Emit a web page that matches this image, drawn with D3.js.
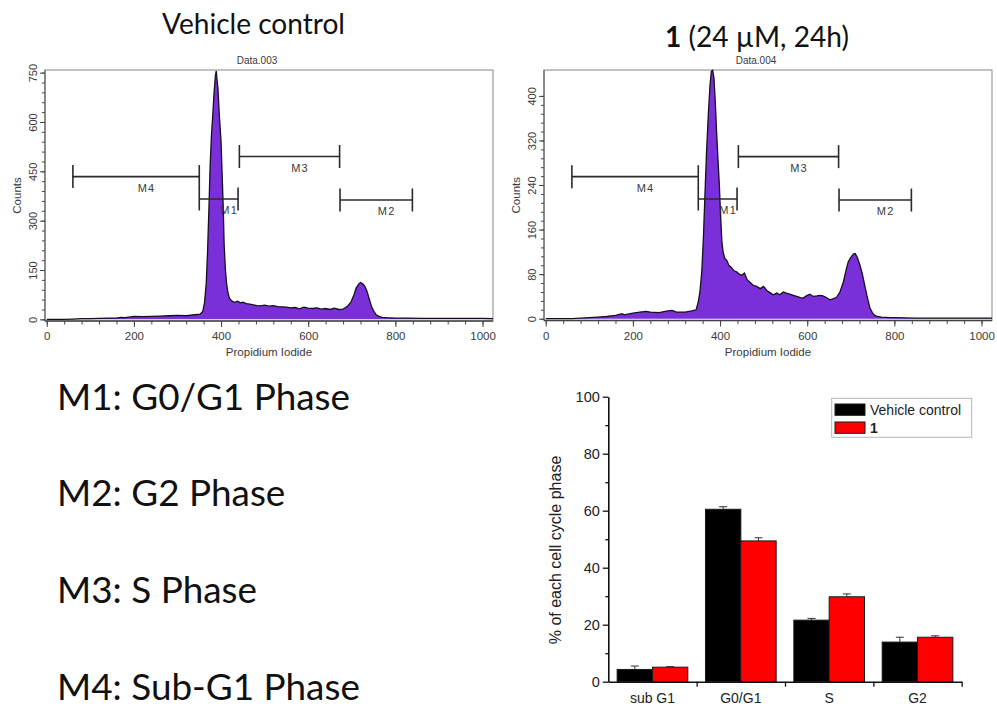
<!DOCTYPE html>
<html>
<head>
<meta charset="utf-8">
<script src="https://cdn.jsdelivr.net/npm/d3@7"></script>
<style>
  body { margin: 0; background: #fff; }
  svg { display: block; }
</style>
</head>
<body>
<svg id="fig" width="997" height="707"></svg>
<script>
// ---- DNA content histograms: [PI channel, counts] ----
const vehicleHist = [
  [0,0],[40,0],[60,1],[80,2],[100,2],[120,3],[140,4],[160,4],[170,6],[180,5],[200,9],[220,8],
  [240,9],[260,10],[280,11],[300,12],[320,11],[340,14],[352,16],[358,24],[362,50],[366,110],
  [369,206],[372,330],[375,470],[378,560],[381,621],[384,690],[387,740],[389,755],[391,725],
  [393,700],[396,621],[400,540],[403,420],[405,340],[407,230],[410,150],[413,105],[416,80],
  [419,65],[423,58],[427,54],[432,52],[438,55],[444,50],[450,52],[458,48],[466,46],[474,44],
  [482,42],[490,41],[500,43],[510,40],[520,42],[530,39],[540,38],[550,37],[560,35],[570,36],
  [580,32],[590,37],[600,34],[610,33],[620,35],[630,31],[640,33],[650,30],[660,34],[670,30],
  [680,31],[690,40],[698,52],[705,75],[710,95],[716,108],[720,112],[725,108],[730,100],
  [735,85],[740,62],[745,40],[750,26],[756,14],[762,9],[770,6],[780,5],[800,4],[830,4],
  [860,3],[900,3],[950,3],[1000,3],[1024,2]
];
const treatedHist = [
  [0,0],[60,0],[80,1],[100,2],[120,3],[140,4],[160,6],[175,9],[180,7],[200,10],[216,12],
  [230,13],[240,12],[260,11],[280,14],[290,15],[300,12],[320,12],[335,14],[345,16],[350,30],
  [354,50],[358,84],[362,150],[365,216],[369,300],[373,366],[377,420],[380,444],[383,446],
  [386,432],[389,390],[392,336],[395,290],[398,246],[401,190],[404,140],[407,120],[411,108],
  [416,104],[420,96],[426,92],[432,86],[438,84],[444,80],[450,78],[456,82],[462,70],[468,66],
  [476,60],[484,58],[492,54],[500,58],[508,50],[516,46],[522,43],[530,46],[537,43],[545,48],
  [552,46],[560,44],[568,42],[576,40],[584,38],[591,37],[598,41],[606,44],[614,40],[622,41],
  [629,42],[636,41],[644,38],[652,34],[660,36],[667,38],[675,48],[683,66],[690,90],[694,102],
  [700,110],[706,116],[710,117],[715,110],[721,96],[726,82],[732,60],[738,38],[744,19],
  [750,10],[755,6],[762,4],[770,3],[790,2],[800,2],[850,1],[900,1],[950,1],[1000,1],[1024,1]
];

// ---- gate markers ----
const markerNames = ["M4", "M1", "M3", "M2"];
const markerStart = [60, 350, 442, 673];
const markerEnd = [350, 439, 672, 839];
const vehicleMarkerLevel = [434, 366, 495, 363];
const treatedMarkerLevel = [255, 215, 291, 213];

// ---- histogram axes ----
const channelTicks = [0, 200, 400, 600, 800, 1000];
const vehicleCountTicks = [0, 150, 300, 450, 600, 750];
const treatedCountTicks = [0, 80, 160, 240, 320, 400];

// ---- gate key ----
const gateKey = ["M1: G0/G1 Phase", "M2: G2 Phase", "M3: S Phase", "M4: Sub-G1 Phase"];

// ---- cell-cycle distribution (%) ----
const phases = ["sub G1", "G0/G1", "S", "G2"];
const seriesNames = ["Vehicle control", "1"];
const seriesColors = ["#000000", "#ff0000"];
const vehicleMean = [4.3, 60.5, 21.6, 13.9];
const vehicleErr = [1.2, 0.9, 0.6, 1.7];
const treatedMean = [5.1, 49.4, 29.8, 15.6];
const treatedErr = [0.2, 1.1, 1.0, 0.5];
const percentTicks = [0, 20, 40, 60, 80, 100];

const svg = d3.select("#fig");
const axisFont = "'Liberation Sans', Arial, Helvetica, sans-serif";
const textFont = "Lato, 'Open Sans', sans-serif";

// font size that makes a string span a given width
function fitSize(str, family, weight, width) {
  const t = svg.append("text").attr("font-family", family).attr("font-weight", weight)
    .attr("font-size", 100).text(str);
  const w = t.node().getComputedTextLength();
  t.remove();
  return 100 * width / w;
}

// ---------- histogram panel ----------
function histogramPanel(o) {
  const x = d3.scaleLinear().domain([-4, 1024]).range([o.left, o.right]);
  const y = d3.scaleLinear().domain([o.yMin, o.yMax]).range([o.bottom, o.top]);
  const g = svg.append("g");

  g.append("rect")
    .attr("x", o.left).attr("y", o.top)
    .attr("width", o.right - o.left).attr("height", o.bottom - o.top)
    .attr("fill", "none").attr("stroke", "#9a9a9a").attr("stroke-width", 1.2);

  const area = d3.area().x(d => x(d[0])).y0(y(0)).y1(d => y(d[1]));
  const line = d3.line().x(d => x(d[0])).y(d => y(d[1]));
  g.append("path").datum(o.data).attr("d", area).attr("fill", "#7a2fd8");
  g.append("path").datum(o.data).attr("d", line)
    .attr("fill", "none").attr("stroke", "#15101e").attr("stroke-width", 1.3);

  // y axis (major + minor)
  const step = o.ticks[1] - o.ticks[0];
  const minorY = d3.range(0, o.ticks[o.ticks.length - 1] + 1, step / 5);
  const ya = g.append("g").attr("transform", `translate(${o.left},0)`)
    .call(d3.axisLeft(y).tickValues(minorY).tickSize(3).tickFormat(""));
  ya.select(".domain").remove();
  ya.selectAll("line").attr("stroke", "#444");
  const yb = g.append("g").attr("transform", `translate(${o.left},0)`)
    .call(d3.axisLeft(y).tickValues(o.ticks).tickSize(5).tickSizeOuter(0).tickFormat(d3.format("d")));
  yb.select(".domain").attr("stroke", "#555").attr("d", `M0,${o.bottom}V${o.top}`);
  yb.selectAll("line").attr("stroke", "#444");
  yb.selectAll("text")
    .attr("x", 0).attr("dy", 0)
    .attr("transform", "translate(-8,0) rotate(-90)")
    .attr("text-anchor", "middle")
    .attr("font-family", axisFont).attr("font-size", 11).attr("fill", "#3a3a3a");

  // x axis (major + minor)
  const minorX = d3.range(0, 1024, 40);
  const xa = g.append("g").attr("transform", `translate(0,${o.bottom})`)
    .call(d3.axisBottom(x).tickValues(minorX).tickSize(3.5).tickFormat(""));
  xa.select(".domain").remove();
  xa.selectAll("line").attr("stroke", "#444");
  const xb = g.append("g").attr("transform", `translate(0,${o.bottom})`)
    .call(d3.axisBottom(x).tickValues(channelTicks).tickSize(6).tickPadding(5)
      .tickSizeOuter(0).tickFormat(d3.format("d")));
  xb.select(".domain").attr("stroke", "#444").attr("stroke-width", 1.3)
    .attr("d", `M${o.left},0H${o.right}`);
  xb.selectAll("line").attr("stroke", "#444");
  xb.selectAll("text").attr("font-family", axisFont).attr("font-size", 11.5).attr("fill", "#3a3a3a");

  // axis titles and sample name
  g.append("text").attr("x", (o.left + o.right) / 2).attr("y", o.bottom + 35)
    .attr("text-anchor", "middle").attr("font-family", axisFont).attr("font-size", 11.5)
    .attr("fill", "#3a3a3a").text("Propidium Iodide");
  g.append("text").attr("transform", `translate(${o.left - 24},${(o.top + o.bottom) / 2}) rotate(-90)`)
    .attr("text-anchor", "middle").attr("font-family", axisFont).attr("font-size", 11.5)
    .attr("fill", "#3a3a3a").text("Counts");
  g.append("text").attr("x", o.sampleX).attr("y", o.top - 6)
    .attr("text-anchor", "middle").attr("font-family", axisFont).attr("font-size", 10)
    .attr("fill", "#3a3a3a").text(o.sample);

  // gate markers
  markerNames.forEach((name, i) => {
    const x0 = x(markerStart[i]), x1 = x(markerEnd[i]), yy = y(o.levels[i]);
    const m = g.append("g").attr("stroke", "#2a2a2a").attr("stroke-width", 1.6);
    m.append("line").attr("x1", x0).attr("x2", x1).attr("y1", yy).attr("y2", yy);
    m.append("line").attr("x1", x0).attr("x2", x0).attr("y1", yy - 11.5).attr("y2", yy + 11.5);
    m.append("line").attr("x1", x1).attr("x2", x1).attr("y1", yy - 11.5).attr("y2", yy + 11.5);
    g.append("text").attr("x", (x0 + x1) / 2 + 10.5).attr("y", yy + 15)
      .attr("text-anchor", "middle").attr("font-family", axisFont).attr("font-size", 11)
      .attr("letter-spacing", 1.2).attr("fill", "#3a3a3a").text(name);
  });
}

histogramPanel({
  left: 45, right: 493, top: 70, bottom: 321,
  yMin: -5, yMax: 758, ticks: vehicleCountTicks,
  data: vehicleHist, levels: vehicleMarkerLevel,
  sample: "Data.003", sampleX: 257
});
histogramPanel({
  left: 544, right: 992, top: 70, bottom: 320.5,
  yMin: -3.2, yMax: 446.5, ticks: treatedCountTicks,
  data: treatedHist, levels: treatedMarkerLevel,
  sample: "Data.004", sampleX: 756
});

// ---------- panel titles ----------
const titleSize = fitSize("Vehicle control", textFont, 400, 183);
svg.append("text").attr("x", 253.5).attr("y", 34).attr("text-anchor", "middle")
  .attr("font-family", textFont).attr("font-size", titleSize).attr("fill", "#111")
  .text("Vehicle control");
const t2 = svg.append("text").attr("x", 757).attr("y", 47).attr("text-anchor", "middle")
  .attr("font-family", textFont).attr("font-size", titleSize).attr("fill", "#111");
t2.append("tspan").attr("font-weight", 700).text("1");
t2.append("tspan").text(" (24 \u00b5M, 24h)");

// ---------- gate key ----------
const keySize = fitSize(gateKey[0], textFont, 400, 293);
const keyBase = [410, 506, 603, 700];
gateKey.forEach((s, i) => {
  svg.append("text").attr("x", 57).attr("y", keyBase[i])
    .attr("font-family", textFont).attr("font-size", keySize).attr("fill", "#111").text(s);
});

// ---------- bar chart ----------
const bx0 = 608.3, bx1 = 961.7, by0 = 681.7, by1 = 396.7;
const xBand = d3.scaleBand().domain(phases).range([bx0, bx1]).paddingInner(0.2).paddingOuter(0.1);
const xSeries = d3.scaleBand().domain(seriesNames).range([0, xBand.bandwidth()]);
const yPct = d3.scaleLinear().domain([0, 100]).range([by0, by1]);
const means = [vehicleMean, treatedMean];
const errs = [vehicleErr, treatedErr];

const bars = svg.append("g");
seriesNames.forEach((s, si) => {
  phases.forEach((p, pi) => {
    const bx = xBand(p) + xSeries(s), bw = xSeries.bandwidth();
    const v = means[si][pi], e = errs[si][pi];
    bars.append("rect").attr("x", bx).attr("y", yPct(v))
      .attr("width", bw).attr("height", yPct(0) - yPct(v))
      .attr("fill", seriesColors[si]).attr("stroke", "#1a1a1a").attr("stroke-width", 1);
    const cx = bx + bw / 2;
    bars.append("line").attr("x1", cx).attr("x2", cx).attr("y1", yPct(v)).attr("y2", yPct(v + e))
      .attr("stroke", "#333").attr("stroke-width", 1);
    bars.append("line").attr("x1", cx - 4).attr("x2", cx + 4).attr("y1", yPct(v + e)).attr("y2", yPct(v + e))
      .attr("stroke", "#333").attr("stroke-width", 1);
  });
});

// y axis
const yMinor = svg.append("g").attr("transform", `translate(${bx0},0)`)
  .call(d3.axisLeft(yPct).tickValues([10, 30, 50, 70, 90]).tickSize(3).tickFormat(""));
yMinor.select(".domain").remove();
yMinor.selectAll("line").attr("stroke", "#111").attr("stroke-width", 1.3);
const yAx = svg.append("g").attr("transform", `translate(${bx0},0)`)
  .call(d3.axisLeft(yPct).tickValues(percentTicks).tickSize(5.5).tickPadding(3).tickSizeOuter(0));
yAx.select(".domain").attr("stroke", "#111").attr("stroke-width", 1.6);
yAx.selectAll("line").attr("stroke", "#111").attr("stroke-width", 1.3);
yAx.selectAll("text").attr("font-family", axisFont).attr("font-size", 14.5).attr("fill", "#222");

// x axis: ticks at category boundaries
const xEdge = d3.scaleLinear().domain([0, phases.length]).range([bx0, bx1]);
const xAx = svg.append("g").attr("transform", `translate(0,${by0})`)
  .call(d3.axisBottom(xEdge).tickValues([1, 2, 3, 4]).tickSize(5).tickFormat("").tickSizeOuter(0));
xAx.select(".domain").attr("stroke", "#111").attr("stroke-width", 1.6);
xAx.selectAll("line").attr("stroke", "#111").attr("stroke-width", 1.3);
svg.append("g").selectAll("text").data(phases).join("text")
  .attr("x", d => xBand(d) + xBand.bandwidth() / 2).attr("y", by0 + 21)
  .attr("text-anchor", "middle").attr("font-family", axisFont).attr("font-size", 14)
  .attr("fill", "#222").text(d => d);

// y title
svg.append("text").attr("transform", "translate(561,550) rotate(-90)")
  .attr("text-anchor", "middle").attr("font-family", axisFont).attr("font-size", 16)
  .attr("fill", "#222").text("% of each cell cycle phase");

// legend
const lg = svg.append("g");
lg.append("rect").attr("x", 831.7).attr("y", 398.3).attr("width", 140).attr("height", 39)
  .attr("fill", "#fff").attr("stroke", "#b5b5b5").attr("stroke-width", 1);
seriesNames.forEach((s, i) => {
  const yy = 404 + i * 18;
  lg.append("rect").attr("x", 835).attr("y", yy).attr("width", 30).attr("height", 11.3)
    .attr("fill", seriesColors[i]).attr("stroke", "#1a1a1a").attr("stroke-width", 1);
  lg.append("text").attr("x", 870).attr("y", yy + 10.5)
    .attr("font-family", axisFont).attr("font-size", 14).attr("fill", "#222")
    .attr("font-weight", i === 1 ? 700 : 400).text(s);
});
</script>
</body>
</html>
